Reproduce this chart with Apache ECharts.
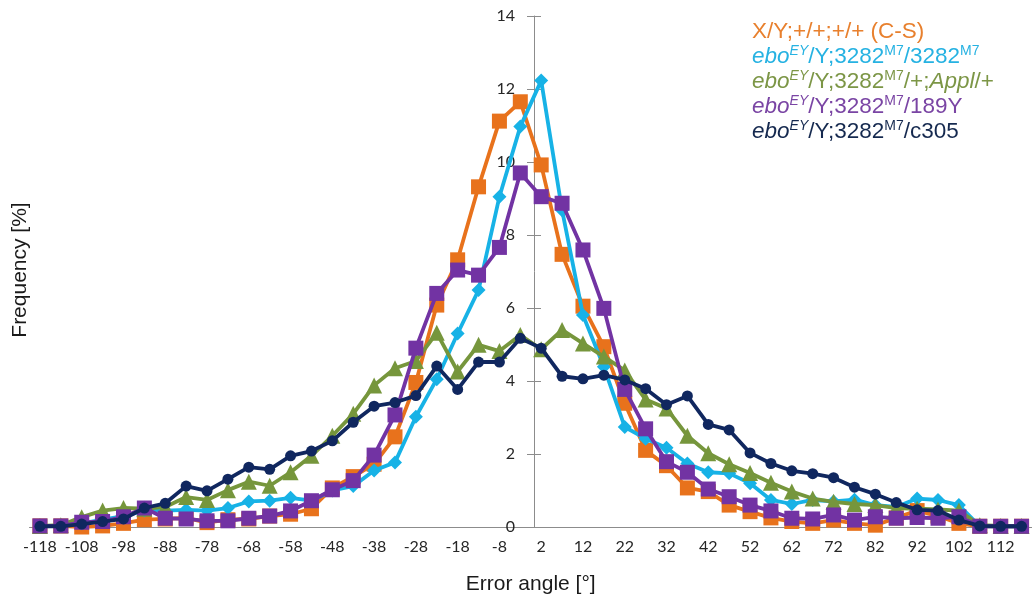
<!DOCTYPE html>
<html>
<head>
<meta charset="utf-8">
<script src="https://cdn.jsdelivr.net/npm/echarts@6/dist/echarts.min.js"></script>
<style>html,body{margin:0;padding:0;background:#fff;}#chart{width:1032px;height:601px;}</style>
</head>
<body>
<div id="chart"></div>
<script>
const angles = ['-118','-113','-108','-103','-98','-93','-88','-83','-78','-73','-68','-63','-58','-53','-48','-43','-38','-33','-28','-23','-18','-13','-8','-3','2','7','12','17','22','27','32','37','42','47','52','57','62','67','72','77','82','87','92','97','102','107','112','117'];

const freqCS = [0.03,0.03,0.0,0.03,0.1,0.2,0.22,0.25,0.12,0.2,0.22,0.3,0.35,0.5,1.07,1.38,1.72,2.47,3.96,6.08,7.32,9.32,11.12,11.65,9.92,7.47,6.05,4.94,3.39,2.1,1.68,1.07,0.97,0.6,0.42,0.25,0.15,0.1,0.19,0.1,0.05,0.25,0.45,0.3,0.1,0.02,0.02,0.02];
const freqHomo = [0.02,0.03,0.1,0.2,0.3,0.45,0.45,0.47,0.45,0.52,0.7,0.72,0.8,0.72,1.0,1.12,1.55,1.77,3.02,4.05,5.3,6.49,9.05,10.97,12.23,8.68,5.81,4.39,2.74,2.42,2.17,1.74,1.5,1.47,1.2,0.74,0.63,0.74,0.7,0.75,0.6,0.55,0.78,0.74,0.6,0.02,0.02,0.02];
const freqAppl = [0.03,0.05,0.27,0.45,0.52,0.5,0.55,0.82,0.74,1.01,1.24,1.13,1.5,1.95,2.5,3.1,3.88,4.35,4.55,5.32,4.26,4.99,4.82,5.26,4.87,5.4,5.03,4.67,4.29,3.49,3.25,2.5,2.02,1.72,1.48,1.21,0.97,0.78,0.69,0.63,0.6,0.52,0.5,0.48,0.45,0.05,0.03,0.03];
const freq189Y = [0.03,0.03,0.13,0.15,0.28,0.52,0.24,0.22,0.17,0.17,0.24,0.3,0.44,0.72,1.02,1.27,1.97,3.07,4.9,6.4,7.04,6.9,7.66,9.7,9.05,8.87,7.59,5.99,3.77,2.69,1.79,1.5,1.04,0.83,0.6,0.44,0.24,0.22,0.33,0.19,0.28,0.24,0.26,0.24,0.28,0.02,0.02,0.02];
const freqC305 = [0.02,0.02,0.08,0.15,0.22,0.52,0.65,1.12,0.99,1.31,1.64,1.58,1.95,2.08,2.36,2.87,3.31,3.41,3.6,4.41,3.77,4.52,4.52,5.17,4.9,4.13,4.06,4.16,4.03,3.79,3.35,3.59,2.81,2.66,2.03,1.74,1.54,1.46,1.35,1.09,0.9,0.67,0.47,0.45,0.19,0.03,0.02,0.02];

const seriesNames = ['X/Y;+/+;+/+ (C-S)','eboEY/Y;3282M7/3282M7','eboEY/Y;3282M7/+;Appl/+','eboEY/Y;3282M7/189Y','eboEY/Y;3282M7/c305'];
const legendRich = {
  'X/Y;+/+;+/+ (C-S)': '{n|X/Y;+/+;+/+ (C-S)}',
  'eboEY/Y;3282M7/3282M7': '{i|ebo}{si|EY}{n|/Y;3282}{s|M7}{n|/3282}{s|M7}',
  'eboEY/Y;3282M7/+;Appl/+': '{i|ebo}{si|EY}{n|/Y;3282}{s|M7}{n|/+;}{i|Appl}{n|/+}',
  'eboEY/Y;3282M7/189Y': '{i|ebo}{si|EY}{n|/Y;3282}{s|M7}{n|/189Y}',
  'eboEY/Y;3282M7/c305': '{i|ebo}{si|EY}{n|/Y;3282}{s|M7}{n|/c305}'
};
const colors = ['#E8721C','#17B2E6','#76963C','#7233A3','#10275F'];
const legendColors = ['#E8802E','#26B2E2','#7C9646','#7A45A4','#15294F'];
const symbols = ['rect','diamond','triangle','rect','circle'];
const symbolSizes = [15,14,16,15,11];
const values = [freqCS, freqHomo, freqAppl, freq189Y, freqC305];

const chart = echarts.init(document.getElementById('chart'), null, {renderer:'canvas'});
const tickFont = 'Lato';
const txtFont = 'Liberation Sans';
chart.setOption({
  animation: false,
  backgroundColor: '#ffffff',
  color: colors,
  grid: {left: 29.5, right: -10, top: 16, bottom: 74, containLabel: false},
  xAxis: {
    type: 'category',
    data: angles,
    boundaryGap: true,
    name: 'Error angle [°]',
    nameLocation: 'middle',
    nameGap: 47,
    nameTextStyle: {fontFamily: txtFont, fontSize: 21, color: '#1a1a1a'},
    axisLine: {lineStyle: {color: '#8c8c8c', width: 1}},
    axisTick: {interval: 0, length: 6, lineStyle: {color: '#8c8c8c'}},
    axisLabel: {interval: 1, fontFamily: tickFont, fontSize: 16, color: '#262626', margin: 12},
    splitLine: {show: false}
  },
  yAxis: [{
    type: 'value',
    min: 0, max: 14, interval: 2,
    position: 'left',
    offset: -504.5,
    axisLine: {show: true, lineStyle: {color: '#8c8c8c', width: 1}},
    axisTick: {show: true, length: 7, lineStyle: {color: '#8c8c8c'}},
    axisLabel: {fontFamily: tickFont, fontSize: 16, color: '#262626', margin: 19},
    splitLine: {show: false}
  }, {
    type: 'value',
    min: 0, max: 14, interval: 2,
    position: 'left',
    offset: -504.5,
    axisLine: {show: false},
    axisTick: {show: true, inside: true, length: 7, lineStyle: {color: '#8c8c8c'}},
    axisLabel: {show: false},
    splitLine: {show: false}
  }],
  legend: {
    orient: 'vertical',
    left: 742, top: 14,
    itemGap: 1,
    icon: 'none',
    itemWidth: 0,
    itemHeight: 25,
    selectedMode: false,
    data: seriesNames.map((n, i) => ({name: n, textStyle: {color: legendColors[i]}})),
    formatter: name => legendRich[name],
    textStyle: {
      fontFamily: txtFont, fontSize: 22.5,
      rich: {
        n: {fontFamily: txtFont, fontSize: 22.5, lineHeight: 25},
        i: {fontFamily: txtFont, fontSize: 22.5, fontStyle: 'italic', lineHeight: 25},
        s: {fontFamily: txtFont, fontSize: 14, lineHeight: 14, verticalAlign: 'top'},
        si: {fontFamily: txtFont, fontSize: 14, fontStyle: 'italic', lineHeight: 14, verticalAlign: 'top'}
      }
    }
  },
  graphic: [{
    type: 'text',
    x: 20, y: 270,
    rotation: Math.PI / 2,
    style: {text: 'Frequency [%]', font: '21px "Liberation Sans"', fill: '#1a1a1a', textAlign: 'center', textVerticalAlign: 'middle'}
  }],
  series: values.map((v, i) => ({
    name: seriesNames[i],
    type: 'line',
    data: v,
    symbol: symbols[i],
    symbolSize: symbolSizes[i],
    showAllSymbol: true,
    lineStyle: {width: 3.8, color: colors[i]},
    itemStyle: {color: colors[i]},
    z: 2 + i
  }))
});
</script>
</body>
</html>
